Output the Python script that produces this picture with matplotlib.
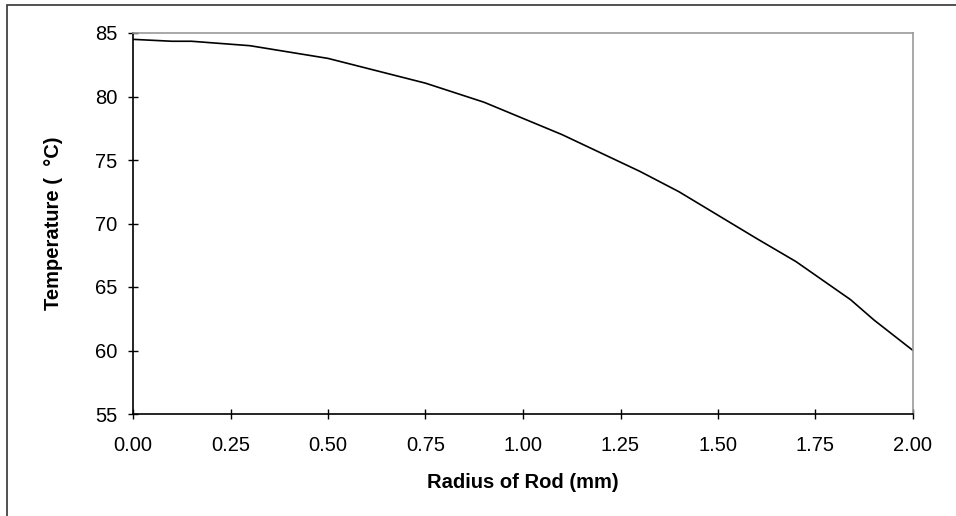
import matplotlib
matplotlib.use("Agg")
import matplotlib.pyplot as plt
from matplotlib.patches import Rectangle

# values
radius_mm = [0.0, 0.1, 0.15, 0.3, 0.5, 0.75, 0.9, 1.1, 1.3, 1.4, 1.6, 1.7, 1.84, 1.9, 2.0]
temp_c = [84.5, 84.35, 84.35, 84.0, 83.0, 81.05, 79.55, 77.0, 74.1, 72.5, 68.8, 67.0, 64.0, 62.4, 60.0]

x_ticks = [0.0, 0.25, 0.5, 0.75, 1.0, 1.25, 1.5, 1.75, 2.0]
y_ticks = [55, 60, 65, 70, 75, 80, 85]

plt.rcParams['font.family'] = ['Liberation Sans', 'DejaVu Sans']

fig = plt.figure(figsize=(9.56, 5.16), dpi=100)
ax = fig.add_axes([133 / 956, 1 - 414 / 516, 780 / 956, 381 / 516])

ax.plot(radius_mm, temp_c, color='black', lw=1.2)

ax.set_xlim(0, 2)
ax.set_ylim(55, 85)
ax.set_xticks(x_ticks)
ax.set_xticklabels([f"{v:.2f}" for v in x_ticks])
ax.set_yticks(y_ticks)
ax.tick_params(direction='inout', length=7, width=1, labelsize=14.5, color='black')
ax.tick_params(axis='x', pad=12)
ax.tick_params(axis='y', pad=7.5)

for side in ('top', 'right'):
    ax.spines[side].set_color('#999999')
    ax.spines[side].set_linewidth(1.2)
for side in ('left', 'bottom'):
    ax.spines[side].set_color('black')
    ax.spines[side].set_linewidth(1.2)

ax.set_xlabel("Radius of Rod (mm)", fontsize=14.5, fontweight='bold', labelpad=13)
ax.set_ylabel("Temperature (  \u00b0C)", fontsize=14.5, fontweight='bold', labelpad=23)

# outer chart border (continues past the right and bottom edges)
fig.add_artist(Rectangle((7 / 956, -0.1), 2, 1 - 4.5 / 516 + 0.1,
                         transform=fig.transFigure, fill=False,
                         ec='#333333', lw=1.2))

fig.savefig("out.png", dpi=100)
